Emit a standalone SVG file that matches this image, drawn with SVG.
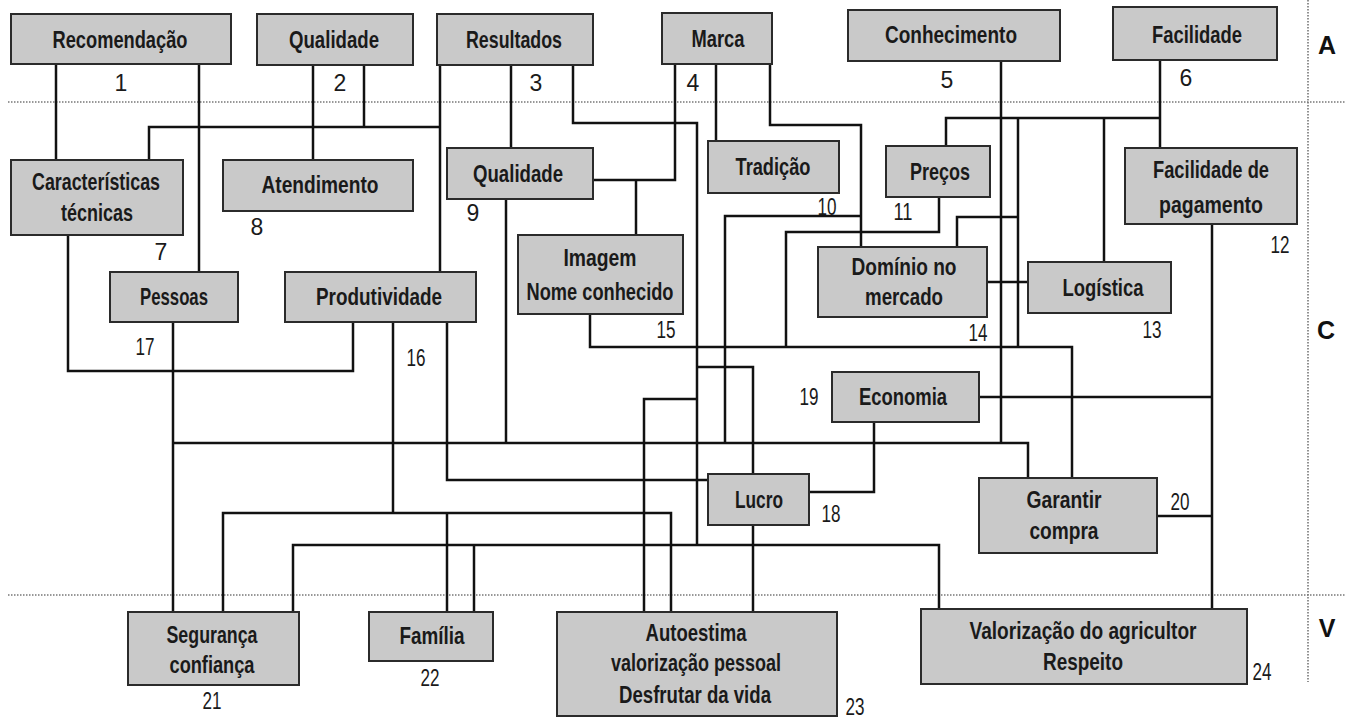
<svg xmlns="http://www.w3.org/2000/svg" width="1347" height="718" viewBox="0 0 1347 718">
<style>
.bx{fill:#c9c9c9;stroke:#2b2b2b;stroke-width:2}
.t{font-family:"Liberation Sans",Arial,sans-serif;font-size:24px;font-weight:bold;fill:#1a1a1a;text-anchor:middle}
.n{font-family:"Liberation Sans",Arial,sans-serif;font-size:23px;fill:#1a1a1a;text-anchor:middle}
.z{font-family:"Liberation Sans",Arial,sans-serif;font-size:25px;font-weight:bold;fill:#111;text-anchor:middle}
.c{fill:none;stroke:#111;stroke-width:2.5;stroke-linejoin:miter}
.d{fill:none;stroke:#777;stroke-width:1.6;stroke-dasharray:1.5 1.5}
</style>
<rect width="1347" height="718" fill="#fff"/>
<g id="zones">
<line class="d" x1="8" y1="102" x2="1345" y2="102"/>
<line class="d" x1="8" y1="595" x2="1345" y2="595"/>
<line class="d" x1="1308" y1="0" x2="1308" y2="682"/>
<text class="z" x="1327" y="54">A</text>
<text class="z" x="1326" y="339">C</text>
<text class="z" x="1327" y="637">V</text>
</g>
<g id="connectors">
<polyline class="c" points="56,64 56,160"/>
<polyline class="c" points="199,64 199,272"/>
<polyline class="c" points="313,65 313,160"/>
<polyline class="c" points="364,65 364,127"/>
<polyline class="c" points="149,160 149,127 440,127"/>
<polyline class="c" points="440,65 440,272"/>
<polyline class="c" points="511,65 511,148"/>
<polyline class="c" points="573,65 573,123 697,123 697,545"/>
<polyline class="c" points="675,64 675,180 593,180"/>
<polyline class="c" points="636,180 636,235"/>
<polyline class="c" points="716,64 716,141"/>
<polyline class="c" points="770,64 770,125 861,125 861,247"/>
<polyline class="c" points="725,443 725,216 861,216"/>
<polyline class="c" points="939,197 939,232 786,232 786,347"/>
<polyline class="c" points="590,314 590,347 1072,347 1072,478"/>
<polyline class="c" points="1018,118 1018,347"/>
<polyline class="c" points="1160,60 1160,148"/>
<polyline class="c" points="946,146 946,118 1160,118"/>
<polyline class="c" points="1104,118 1104,262"/>
<polyline class="c" points="957,247 957,217 1018,217"/>
<polyline class="c" points="987,282 1028,282"/>
<polyline class="c" points="1001,61 1001,443"/>
<polyline class="c" points="173,443 1028,443 1028,478"/>
<polyline class="c" points="173,322 173,612"/>
<polyline class="c" points="68,235 68,371 353,371 353,322"/>
<polyline class="c" points="506,199 506,443"/>
<polyline class="c" points="393,322 393,513"/>
<polyline class="c" points="223,612 223,513 671,513 671,612"/>
<polyline class="c" points="447,513 447,612"/>
<polyline class="c" points="447,322 447,480 708,480"/>
<polyline class="c" points="1212,224 1212,609"/>
<polyline class="c" points="979,397 1212,397"/>
<polyline class="c" points="1157,516 1212,516"/>
<polyline class="c" points="874,422 874,492 809,492"/>
<polyline class="c" points="644,612 644,399 697,399"/>
<polyline class="c" points="697,367 753,367 753,474"/>
<polyline class="c" points="753,525 753,612"/>
<polyline class="c" points="293,612 293,545 939,545 939,609"/>
<polyline class="c" points="474,545 474,612"/>
</g>
<g id="n1"><rect class="bx" x="11" y="14" width="220" height="50"/><text class="t" x="120" y="48" textLength="135" lengthAdjust="spacingAndGlyphs">Recomendação</text><text class="n" x="121" y="91">1</text></g>
<g id="n2"><rect class="bx" x="257" y="14" width="156" height="51"/><text class="t" x="334" y="48" textLength="90" lengthAdjust="spacingAndGlyphs">Qualidade</text><text class="n" x="340" y="91">2</text></g>
<g id="n3"><rect class="bx" x="437" y="14" width="156" height="51"/><text class="t" x="514" y="48" textLength="96" lengthAdjust="spacingAndGlyphs">Resultados</text><text class="n" x="536" y="91">3</text></g>
<g id="n4"><rect class="bx" x="662" y="13" width="110" height="51"/><text class="t" x="718" y="47" textLength="53" lengthAdjust="spacingAndGlyphs">Marca</text><text class="n" x="693" y="91">4</text></g>
<g id="n5"><rect class="bx" x="848" y="10" width="212" height="51"/><text class="t" x="951" y="43" textLength="132" lengthAdjust="spacingAndGlyphs">Conhecimento</text><text class="n" x="947" y="88">5</text></g>
<g id="n6"><rect class="bx" x="1113" y="7" width="164" height="53"/><text class="t" x="1197" y="43" textLength="90" lengthAdjust="spacingAndGlyphs">Facilidade</text><text class="n" x="1186" y="86">6</text></g>
<g id="n7"><rect class="bx" x="11" y="160" width="172" height="75"/><text class="t" x="96" y="190" textLength="128" lengthAdjust="spacingAndGlyphs">Características</text><text class="t" x="97" y="221" textLength="72" lengthAdjust="spacingAndGlyphs">técnicas</text><text class="n" x="161" y="260">7</text></g>
<g id="n8"><rect class="bx" x="223" y="160" width="190" height="51"/><text class="t" x="320" y="193" textLength="117" lengthAdjust="spacingAndGlyphs">Atendimento</text><text class="n" x="257" y="235">8</text></g>
<g id="n9"><rect class="bx" x="447" y="148" width="146" height="51"/><text class="t" x="518" y="182" textLength="90" lengthAdjust="spacingAndGlyphs">Qualidade</text><text class="n" x="473" y="221">9</text></g>
<g id="n10"><rect class="bx" x="708" y="141" width="131" height="52"/><text class="t" x="773" y="175" textLength="75" lengthAdjust="spacingAndGlyphs">Tradição</text><text class="n" x="827" y="215" textLength="19" lengthAdjust="spacingAndGlyphs">10</text></g>
<g id="n11"><rect class="bx" x="886" y="146" width="104" height="51"/><text class="t" x="940" y="180" textLength="60" lengthAdjust="spacingAndGlyphs">Preços</text><text class="n" x="903" y="220" textLength="19" lengthAdjust="spacingAndGlyphs">11</text></g>
<g id="n12"><rect class="bx" x="1125" y="148" width="172" height="76"/><text class="t" x="1211" y="178" textLength="116" lengthAdjust="spacingAndGlyphs">Facilidade de</text><text class="t" x="1211" y="213" textLength="104" lengthAdjust="spacingAndGlyphs">pagamento</text><text class="n" x="1280" y="253" textLength="19" lengthAdjust="spacingAndGlyphs">12</text></g>
<g id="n13"><rect class="bx" x="1028" y="262" width="143" height="51"/><text class="t" x="1103" y="296" textLength="81" lengthAdjust="spacingAndGlyphs">Logística</text><text class="n" x="1152" y="338" textLength="19" lengthAdjust="spacingAndGlyphs">13</text></g>
<g id="n14"><rect class="bx" x="818" y="247" width="169" height="70"/><text class="t" x="904" y="275" textLength="105" lengthAdjust="spacingAndGlyphs">Domínio no</text><text class="t" x="904" y="305" textLength="78" lengthAdjust="spacingAndGlyphs">mercado</text><text class="n" x="978" y="341" textLength="19" lengthAdjust="spacingAndGlyphs">14</text></g>
<g id="n15"><rect class="bx" x="518" y="235" width="165" height="79"/><text class="t" x="600" y="266" textLength="73" lengthAdjust="spacingAndGlyphs">Imagem</text><text class="t" x="600" y="300" textLength="147" lengthAdjust="spacingAndGlyphs">Nome conhecido</text><text class="n" x="666" y="338" textLength="19" lengthAdjust="spacingAndGlyphs">15</text></g>
<g id="n16"><rect class="bx" x="285" y="272" width="191" height="50"/><text class="t" x="379" y="305" textLength="126" lengthAdjust="spacingAndGlyphs">Produtividade</text><text class="n" x="416" y="366" textLength="19" lengthAdjust="spacingAndGlyphs">16</text></g>
<g id="n17"><rect class="bx" x="110" y="272" width="128" height="50"/><text class="t" x="174" y="305" textLength="68" lengthAdjust="spacingAndGlyphs">Pessoas</text><text class="n" x="145" y="355" textLength="19" lengthAdjust="spacingAndGlyphs">17</text></g>
<g id="n18"><rect class="bx" x="708" y="474" width="101" height="51"/><text class="t" x="759" y="508" textLength="48" lengthAdjust="spacingAndGlyphs">Lucro</text><text class="n" x="831" y="522" textLength="19" lengthAdjust="spacingAndGlyphs">18</text></g>
<g id="n19"><rect class="bx" x="832" y="372" width="147" height="50"/><text class="t" x="903" y="405" textLength="88" lengthAdjust="spacingAndGlyphs">Economia</text><text class="n" x="809" y="405" textLength="19" lengthAdjust="spacingAndGlyphs">19</text></g>
<g id="n20"><rect class="bx" x="979" y="478" width="178" height="75"/><text class="t" x="1064" y="508" textLength="75" lengthAdjust="spacingAndGlyphs">Garantir</text><text class="t" x="1064" y="539" textLength="69" lengthAdjust="spacingAndGlyphs">compra</text><text class="n" x="1180" y="510" textLength="19" lengthAdjust="spacingAndGlyphs">20</text></g>
<g id="n21"><rect class="bx" x="128" y="612" width="171" height="73"/><text class="t" x="212" y="643" textLength="91" lengthAdjust="spacingAndGlyphs">Segurança</text><text class="t" x="212" y="673" textLength="85" lengthAdjust="spacingAndGlyphs">confiança</text><text class="n" x="212" y="709" textLength="19" lengthAdjust="spacingAndGlyphs">21</text></g>
<g id="n22"><rect class="bx" x="369" y="612" width="124" height="49"/><text class="t" x="432" y="644" textLength="65" lengthAdjust="spacingAndGlyphs">Família</text><text class="n" x="430" y="686" textLength="19" lengthAdjust="spacingAndGlyphs">22</text></g>
<g id="n23"><rect class="bx" x="557" y="612" width="280" height="104"/><text class="t" x="696" y="641" textLength="101" lengthAdjust="spacingAndGlyphs">Autoestima</text><text class="t" x="696" y="671" textLength="170" lengthAdjust="spacingAndGlyphs">valorização pessoal</text><text class="t" x="695" y="703" textLength="152" lengthAdjust="spacingAndGlyphs">Desfrutar da vida</text><text class="n" x="855" y="715" textLength="19" lengthAdjust="spacingAndGlyphs">23</text></g>
<g id="n24"><rect class="bx" x="921" y="609" width="326" height="75"/><text class="t" x="1083" y="639" textLength="227" lengthAdjust="spacingAndGlyphs">Valorização do agricultor</text><text class="t" x="1083" y="670" textLength="80" lengthAdjust="spacingAndGlyphs">Respeito</text><text class="n" x="1262" y="680" textLength="19" lengthAdjust="spacingAndGlyphs">24</text></g>
</svg>
